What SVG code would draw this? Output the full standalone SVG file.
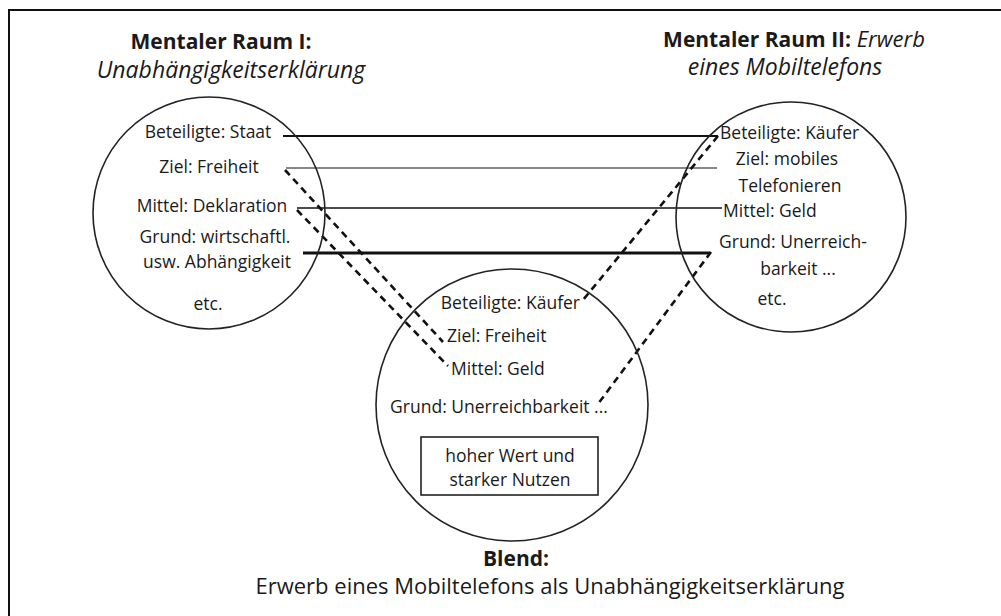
<svg xmlns="http://www.w3.org/2000/svg" width="1001" height="616" viewBox="0 0 1001 616">
<style>
.t{font-family:"Open Sans","Noto Sans","Liberation Sans",sans-serif;font-size:17.5px;fill:#1a1a1a}
.ti{font-family:"Open Sans","Noto Sans","Liberation Sans",sans-serif;font-size:21px;fill:#1a1a1a}
.b{font-weight:bold}
.i{font-style:italic;font-size:23px}
.c{fill:none;stroke:#222;stroke-width:1.6}
.m{text-anchor:middle}
.e{text-anchor:end}
.dash{fill:none;stroke:#111;stroke-width:2.6;stroke-dasharray:7 5}
</style>
<rect width="1001" height="616" fill="#fff"/>
<path d="M9 616 V10 H1001" fill="none" stroke="#111" stroke-width="2"/>
<g id="titles">
<text class="ti b m" x="221" y="49">Mentaler Raum I:</text>
<text class="ti i m" x="231" y="78">Unabhängigkeitserklärung</text>
<text class="ti m" x="794" y="47"><tspan class="b">Mentaler Raum II:</tspan><tspan class="i" style="font-size:22px"> Erwerb</tspan></text>
<text class="ti i m" x="785" y="75">eines Mobiltelefons</text>
<text class="ti b m" x="516" y="566">Blend:</text>
<text class="ti m" x="550" y="594" style="font-size:22px">Erwerb eines Mobiltelefons als Unabhängigkeitserklärung</text>
</g>
<g id="connectors">
<line x1="283" y1="136" x2="718" y2="136" stroke="#111" stroke-width="2"/>
<line x1="286" y1="168" x2="717" y2="168" stroke="#111" stroke-width="1.1"/>
<line x1="297" y1="208" x2="722" y2="208" stroke="#111" stroke-width="1.3"/>
<line x1="303" y1="253" x2="710" y2="253" stroke="#111" stroke-width="3"/>
<line class="dash" x1="285" y1="170" x2="443" y2="342"/>
<line class="dash" x1="297" y1="210" x2="448" y2="366"/>
<line class="dash" x1="718" y1="136" x2="583" y2="300"/>
<line class="dash" x1="711" y1="252" x2="598" y2="404"/>
</g>
<g id="space1">
<circle class="c" cx="209" cy="213" r="116"/>
<text class="t m" x="208" y="138">Beteiligte: Staat</text>
<text class="t m" x="209" y="173">Ziel: Freiheit</text>
<text class="t m" x="212" y="212">Mittel: Deklaration</text>
<text class="t m" x="215" y="243">Grund: wirtschaftl.</text>
<text class="t m" x="217" y="268">usw. Abhängigkeit</text>
<text class="t m" x="208" y="310">etc.</text>
</g>
<g id="space2">
<circle class="c" cx="791" cy="217" r="115"/>
<text class="t" x="720" y="139">Beteiligte: Käufer</text>
<text class="t m" x="787" y="165">Ziel: mobiles</text>
<text class="t m" x="790" y="192">Telefonieren</text>
<text class="t" x="723" y="217">Mittel: Geld</text>
<text class="t" x="719" y="248">Grund: Unerreich-</text>
<text class="t m" x="798" y="275">barkeit ...</text>
<text class="t m" x="772" y="305">etc.</text>
</g>
<g id="blend">
<circle class="c" cx="512" cy="405" r="136"/>
<text class="t e" x="580" y="309">Beteiligte: Käufer</text>
<text class="t" x="447" y="342">Ziel: Freiheit</text>
<text class="t" x="451" y="375">Mittel: Geld</text>
<text class="t m" x="499" y="413">Grund: Unerreichbarkeit ...</text>
<rect x="421" y="437" width="177" height="58" fill="none" stroke="#222" stroke-width="1.6"/>
<text class="t m" x="510" y="462">hoher Wert und</text>
<text class="t m" x="510" y="486">starker Nutzen</text>
</g>
</svg>
